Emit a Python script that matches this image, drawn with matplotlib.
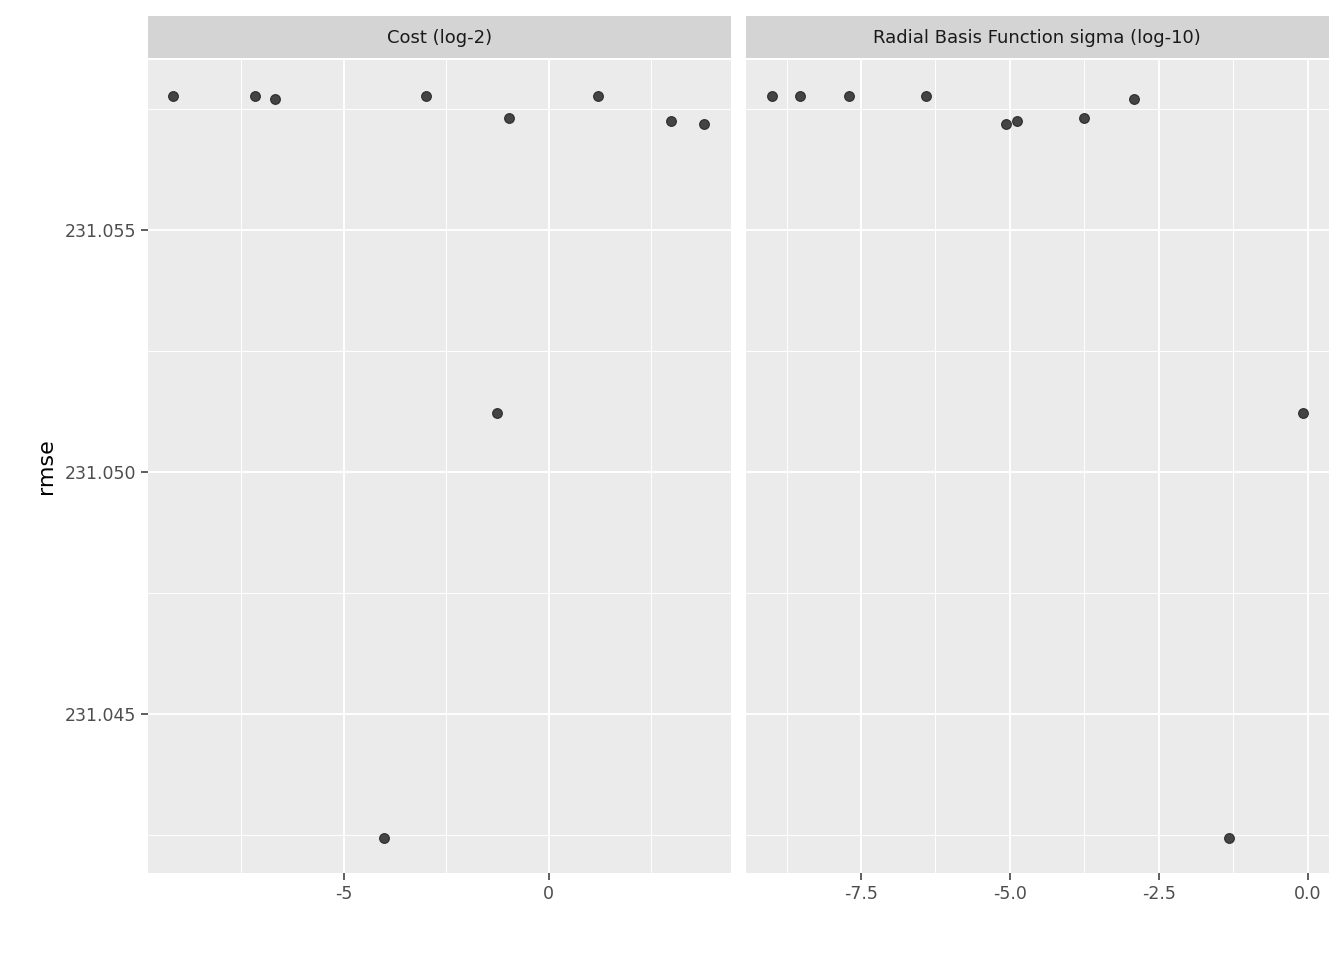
import numpy as np
import matplotlib.pyplot as plt
from matplotlib.ticker import FixedLocator

cost = [-9.17, -7.17, -6.68, -4.02, -3.0, -1.27, -0.98, 1.2, 2.98, 3.78]
sigma = [-9.0, -8.53, -2.91, -1.33, -7.7, -0.08, -3.75, -6.41, -4.88, -5.06]
rmse = [231.057769, 231.057769, 231.057707, 231.042438, 231.057769,
        231.051219, 231.057314, 231.057769, 231.057252, 231.057190]

panels = [("Cost (log-2)", cost, (-9.78, 4.44), [-5, 0], [-7.5, -2.5, 2.5], ["-5", "0"]),
          ("Radial Basis Function sigma (log-10)", sigma, (-9.43, 0.35),
           [-7.5, -5, -2.5, 0], [-8.75, -6.25, -3.75, -1.25], ["-7.5", "-5.0", "-2.5", "0.0"])]

fig = plt.figure(figsize=(13.44, 9.6), dpi=100)
lefts = [148 / 1344, 746 / 1344]
for i, (title, xs, xlim, maj, mnr, lbl) in enumerate(panels):
    ax = fig.add_axes([lefts[i], 0.0906, 0.4335, 0.8469])
    ax.set_facecolor("#EBEBEB")
    ax.scatter(xs, rmse, s=50, color="#1a1a1a", alpha=0.8, zorder=3, linewidths=0.8, edgecolors="#1a1a1a")
    ax.set_xlim(xlim)
    ax.set_ylim(231.041715, 231.058512)
    ax.xaxis.set_major_locator(FixedLocator(maj))
    ax.xaxis.set_minor_locator(FixedLocator(mnr))
    ax.set_xticklabels(lbl)
    ax.yaxis.set_major_locator(FixedLocator([231.045, 231.050, 231.055]))
    ax.yaxis.set_minor_locator(FixedLocator([231.0425, 231.0475, 231.0525, 231.0575]))
    ax.grid(which="major", color="white", linewidth=1.4)
    ax.grid(which="minor", color="white", linewidth=0.7)
    ax.set_axisbelow(True)
    for s in ax.spines.values():
        s.set_visible(False)
    ax.tick_params(which="minor", length=0)
    ax.tick_params(which="major", length=5, width=1.1, color="#333333", labelcolor="#4D4D4D", labelsize=12.5)
    if i == 0:
        ax.set_yticklabels(["231.045", "231.050", "231.055"])
        ax.set_ylabel("rmse", fontsize=16, labelpad=6)
    else:
        ax.tick_params(axis="y", left=False, labelleft=False)
    ax.text(0.5, 1.0 + 22 / 813, title, transform=ax.transAxes, ha="center", va="center",
            fontsize=13, color="#1A1A1A")
    strip = plt.Rectangle((0, 1.0 + 2 / 813), 1, 42 / 813, transform=ax.transAxes,
                          facecolor="#D4D4D4", edgecolor="none", clip_on=False, zorder=0)
    ax.add_patch(strip)

fig.savefig("out.png", dpi=100)
